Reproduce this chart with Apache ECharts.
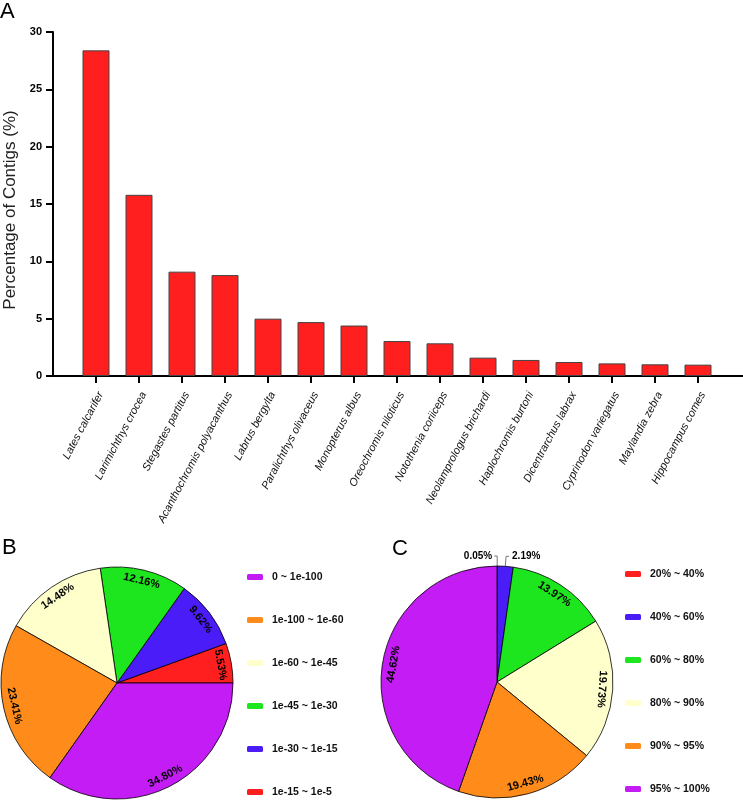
<!DOCTYPE html>
<html><head><meta charset="utf-8">
<script src="https://cdn.jsdelivr.net/npm/echarts@6/dist/echarts.min.js"></script>
<style>html,body{margin:0;padding:0;background:#fff}#c{width:743px;height:801px}</style>
</head><body><div id="c"></div>
<script>
// ---- Panel A data ----
const species = ['Lates calcarifer','Larimichthys crocea','Stegastes partitus','Acanthochromis polyacanthus','Labrus bergylta','Paralichthys olivaceus','Monopterus albus','Oreochromis niloticus','Notothenia coriiceps','Neolamprologus brichardi','Haplochromis burtoni','Dicentrarchus labrax','Cyprinodon variegatus','Maylandia zebra','Hippocampus comes'];
const contigPct = [28.4, 15.8, 9.1, 8.8, 5.0, 4.7, 4.4, 3.05, 2.85, 1.6, 1.4, 1.22, 1.1, 1.02, 0.99];
const yTicks = [0, 5, 10, 15, 20, 25, 30];
// ---- Panel B data (legend order) ----
const evalueNames = ['0 ~ 1e-100','1e-100 ~ 1e-60','1e-60 ~ 1e-45','1e-45 ~ 1e-30','1e-30 ~ 1e-15','1e-15 ~ 1e-5'];
const evaluePct = [34.80, 23.41, 14.48, 12.16, 9.62, 5.53];
// ---- Panel C data (legend order) ----
const identityNames = ['20% ~ 40%','40% ~ 60%','60% ~ 80%','80% ~ 90%','90% ~ 95%','95% ~ 100%'];
const identityPct = [0.05, 2.19, 13.97, 19.73, 19.43, 44.62];

const FONT = '"Liberation Sans", Arial, sans-serif';
const BAR_COLOR = '#FF1F1F';
const evalueColors = ['#C41CF4', '#FF8C1A', '#FFFFCC', '#1EE61E', '#4A1CF7', '#FF1F1F'];
const identityColors = ['#FF1F1F', '#4A1CF7', '#1EE61E', '#FFFFCC', '#FF8C1A', '#C41CF4'];

function tangentRot(theta) {
  let r = theta - 90;
  while (r > 85) r -= 180;
  while (r <= -95) r += 180;
  return r;
}
// Build pie data in drawing order with tangential label rotations
function buildPie(names, vals, colors, order, start, clockwise) {
  const total = vals.reduce((a, b) => a + b, 0);
  let cum = 0;
  return order.map(i => {
    const v = vals[i];
    const frac = (cum + v / 2) / total;
    cum += v;
    const theta = clockwise ? start - frac * 360 : start + frac * 360;
    return { name: names[i], value: v, color: colors[i], rot: tangentRot(theta) };
  });
}
const pieB = buildPie(evalueNames, evaluePct, evalueColors, [5, 4, 3, 2, 1, 0], 0, false);
const pieC = buildPie(identityNames, identityPct, identityColors, [0, 1, 2, 3, 4, 5], 90, true);

const R = 116;
const centerB = [117, 683];
const centerC = [497, 682];
const pct = p => p.value.toFixed(2) + '%';

const legendCommon = {
  orient: 'vertical', icon: 'roundRect', padding: 0,
  itemWidth: 16, itemHeight: 6, itemGap: 29, selectedMode: false,
  itemStyle: { borderWidth: 0 },
  textStyle: { fontSize: 10.5, fontWeight: 'bold', color: '#111', padding: [0, 0, 0, 4], lineHeight: 14, fontFamily: FONT }
};

const chart = echarts.init(document.getElementById('c'), null, { renderer: 'canvas' });
const option = {
  animation: false,
  textStyle: { fontFamily: FONT },
  grid: { left: 74.5, right: 23.5, top: 32, bottom: 425, containLabel: false },
  xAxis: {
    type: 'category', data: species,
    axisLine: { show: false },
    axisTick: { show: true, alignWithLabel: true, length: 7, lineStyle: { color: '#000', width: 2 } },
    axisLabel: { interval: 0, rotate: 62, fontStyle: 'italic', fontSize: 11, color: '#111', margin: 14, verticalAlign: 'top', fontFamily: FONT }
  },
  yAxis: {
    type: 'value', min: yTicks[0], max: yTicks[yTicks.length - 1], interval: yTicks[1] - yTicks[0],
    offset: 21.5,
    splitLine: { show: false },
    axisLine: { show: true, lineStyle: { color: '#000', width: 2 } },
    axisTick: { show: true, length: 7, lineStyle: { color: '#000', width: 2 } },
    axisLabel: { fontSize: 11, fontWeight: 'bold', color: '#000', margin: 11, fontFamily: FONT }
  },
  legend: [
    Object.assign({ data: evalueNames, left: 247, top: 570 }, legendCommon),
    Object.assign({ data: identityNames, left: 625, top: 567 }, legendCommon)
  ],
  graphic: [
    { type: 'line', shape: { x1: 53, y1: 376, x2: 743, y2: 376 }, style: { stroke: '#000', lineWidth: 2 }, silent: true },
    { type: 'text', x: 0, y: 1, style: { text: 'A', font: '22px ' + FONT, fill: '#000' } },
    { type: 'text', x: 2, y: 537, style: { text: 'B', font: '22px ' + FONT, fill: '#000' } },
    { type: 'text', x: 392, y: 538, style: { text: 'C', font: '22px ' + FONT, fill: '#000' } },
    { type: 'text', x: 10, y: 210, rotation: Math.PI / 2,
      style: { text: 'Percentage of Contigs (%)', font: '17px ' + FONT, fill: '#222', align: 'center', verticalAlign: 'middle' } }
  ],
  series: [
    {
      type: 'bar', data: contigPct, barWidth: 27,
      itemStyle: { color: BAR_COLOR, borderColor: '#444', borderWidth: 1 },
      emphasis: { disabled: true }
    },
    // Panel B main pie
    {
      type: 'pie', center: centerB, radius: [0, R], startAngle: 0, clockwise: false,
      data: pieB.map(d => ({ name: d.name, value: d.value, itemStyle: { color: d.color } })),
      itemStyle: { borderColor: '#000', borderWidth: 0.8 },
      label: { show: false }, labelLine: { show: false },
      emphasis: { disabled: true }, silent: true
    },
    // Panel B label ring
    {
      type: 'pie', center: centerB, radius: [R - 28, R], startAngle: 0, clockwise: false,
      data: pieB.map(d => ({ name: d.name, value: d.value, label: { rotate: d.rot } })),
      itemStyle: { color: 'rgba(0,0,0,0)', borderWidth: 0 },
      label: { show: true, position: 'inside', formatter: pct, fontSize: 11, fontWeight: 'bold', color: '#000', fontFamily: FONT },
      labelLine: { show: false }, emphasis: { disabled: true }, silent: true
    },
    // Panel C main pie (outside labels for thin slices)
    {
      type: 'pie', center: centerC, radius: [0, R], startAngle: 90, clockwise: true,
      avoidLabelOverlap: false,
      data: pieC.map(d => ({ name: d.name, value: d.value, itemStyle: { color: d.color }, label: { show: d.value < 3 }, labelLine: { show: d.value < 3 } })),
      itemStyle: { borderColor: '#000', borderWidth: 0.8 },
      label: { position: 'outside', formatter: pct, fontSize: 10, fontWeight: 'bold', color: '#000', distanceToLabelLine: 3, fontFamily: FONT },
      labelLine: { length: 10, length2: 3, lineStyle: { color: '#777', width: 1 } },
      labelLayout: function (p) {
        if (p.dataIndex === 0 && p.labelLinePoints) {
          const a = p.labelLinePoints[0], b = p.labelLinePoints[1];
          const c = [b[0] - 3, b[1]];
          return { x: c[0] - 2, y: c[1], align: 'right', verticalAlign: 'middle', labelLinePoints: [a, b, c] };
        }
        return {};
      },
      emphasis: { disabled: true }, silent: true
    },
    // Panel C label ring
    {
      type: 'pie', center: centerC, radius: [R - 28, R], startAngle: 90, clockwise: true,
      data: pieC.map(d => ({ name: d.name, value: d.value, label: { show: d.value >= 3, rotate: d.rot } })),
      itemStyle: { color: 'rgba(0,0,0,0)', borderWidth: 0 },
      label: { position: 'inside', formatter: pct, fontSize: 11, fontWeight: 'bold', color: '#000', fontFamily: FONT },
      labelLine: { show: false }, emphasis: { disabled: true }, silent: true
    }
  ]
};
chart.setOption(option);
</script>
</body></html>
